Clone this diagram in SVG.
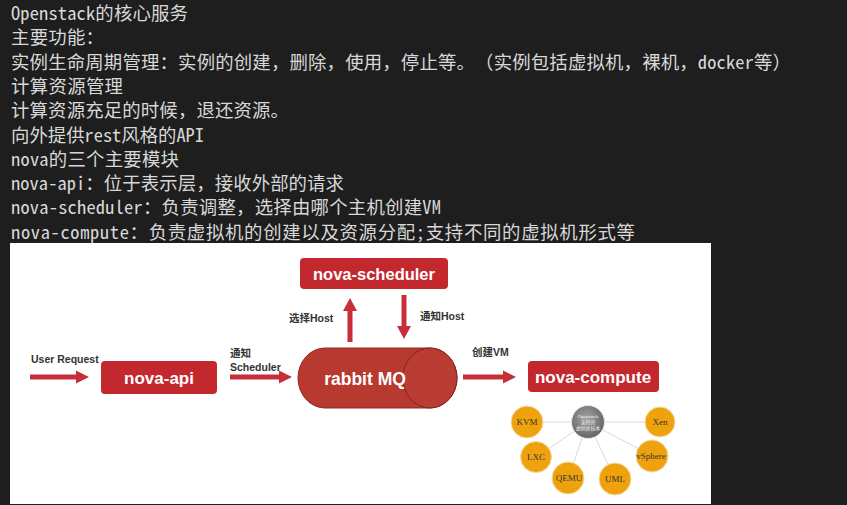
<svg xmlns="http://www.w3.org/2000/svg" width="847" height="505" viewBox="0 0 847 505">
<defs>
<style>
.t{font-family:"Noto Sans Mono CJK SC","Noto Sans CJK SC",sans-serif;font-size:18.4px;fill:#d8d8d8;text-spacing-trim:space-all;font-feature-settings:"halt" 0,"chws" 0}
.box{fill:#c4282f}
.bt{font-family:"Liberation Sans","Noto Sans CJK SC",sans-serif;font-weight:bold;fill:#ffffff;text-anchor:middle}
.lbl{font-family:"Liberation Sans","Noto Sans CJK SC",sans-serif;font-weight:bold;font-size:10.5px;fill:#333333}
.arr{fill:#c62f37}
.ln{stroke:#dadada;stroke-width:1;fill:none}
.orb{fill:#eea30e;stroke:#f3dca8;stroke-width:1}
.ot{font-family:"Liberation Serif","Noto Serif CJK SC",serif;font-size:9px;fill:#333333;text-anchor:middle}
.gt{font-family:"Liberation Serif","Noto Sans CJK SC",serif;font-size:4.8px;fill:#f4f4f4;text-anchor:middle}
</style>
<radialGradient id="gg" cx="0.45" cy="0.4" r="0.65">
<stop offset="0" stop-color="#a4a4a4"/>
<stop offset="1" stop-color="#5f5f5f"/>
</radialGradient>
</defs>
<rect x="0" y="0" width="847" height="505" fill="#1e1e1e"/>
<g id="notes">
<text class="t" x="11" y="20" textLength="177" lengthAdjust="spacing">Openstack的核心服务</text>
<text class="t" x="11" y="44.3" textLength="93" lengthAdjust="spacing">主要功能：</text>
<text class="t" x="11" y="68.6" textLength="780" lengthAdjust="spacing">实例生命周期管理：实例的创建，删除，使用，停止等。（实例包括虚拟机，裸机，docker等）</text>
<text class="t" x="11" y="92.9" textLength="112" lengthAdjust="spacing">计算资源管理</text>
<text class="t" x="11" y="117.2" textLength="278" lengthAdjust="spacing">计算资源充足的时候，退还资源。</text>
<text class="t" x="11" y="141.5" textLength="193" lengthAdjust="spacing">向外提供rest风格的API</text>
<text class="t" x="11" y="165.8" textLength="168" lengthAdjust="spacing">nova的三个主要模块</text>
<text class="t" x="11" y="190.1" textLength="333" lengthAdjust="spacing">nova-api：位于表示层，接收外部的请求</text>
<text class="t" x="11" y="214.4" textLength="430" lengthAdjust="spacing">nova-scheduler：负责调整，选择由哪个主机创建VM</text>
<text class="t" x="11" y="238.7" textLength="624" lengthAdjust="spacing">nova-compute：负责虚拟机的创建以及资源分配;支持不同的虚拟机形式等</text>
</g>
<rect x="10" y="243" width="701" height="261" fill="#ffffff"/>
<g id="connectors">
<polygon class="arr" points="30,374.5 76,374.5 76,370.5 89,377 76,383.5 76,379.5 30,379.5"/>
<polygon class="arr" points="230,374.5 279,374.5 279,370.5 292,377 279,383.5 279,379.5 230,379.5"/>
<polygon class="arr" points="463,374.5 503,374.5 503,370.5 516,377 503,383.5 503,379.5 463,379.5"/>
<polygon class="arr" points="347.5,342 347.5,311 343,311 350,298 357,311 352.5,311 352.5,342"/>
<polygon class="arr" points="401.5,295 401.5,326 397,326 404,339 411,326 406.5,326 406.5,295"/>
<line class="ln" x1="588" y1="422" x2="527" y2="422"/>
<line class="ln" x1="588" y1="422" x2="660" y2="422"/>
<line class="ln" x1="588" y1="422" x2="536" y2="457"/>
<line class="ln" x1="588" y1="422" x2="652" y2="456"/>
<line class="ln" x1="588" y1="422" x2="568" y2="478"/>
<line class="ln" x1="588" y1="422" x2="615" y2="479"/>
<text class="lbl" x="31" y="362.5">User Request</text>
<text class="lbl" x="230" y="357">通知</text>
<text class="lbl" x="230" y="370.5">Scheduler</text>
<text class="lbl" x="289" y="321.7">选择Host</text>
<text class="lbl" x="420" y="319.7">通知Host</text>
<text class="lbl" x="472" y="355.7">创建VM</text>
</g>
<g id="nova-scheduler">
<rect class="box" x="300" y="258" width="148" height="31" rx="4"/>
<text class="bt" x="374" y="280" font-size="16.5">nova-scheduler</text>
</g>
<g id="nova-api">
<rect class="box" x="101" y="361" width="116" height="33" rx="4"/>
<text class="bt" x="159" y="384" font-size="17">nova-api</text>
</g>
<g id="rabbit-mq">
<path d="M325,348 H430 A27,30 0 0 1 430,408 H325 A27,30 0 0 1 325,348 Z" fill="#b8392f" stroke="#8e2a23" stroke-width="1"/>
<ellipse cx="430" cy="378" rx="27" ry="30" fill="#bb3c32" stroke="#7d241e" stroke-width="1"/>
<text class="bt" x="365" y="385" font-size="17.5">rabbit MQ</text>
</g>
<g id="nova-compute">
<rect class="box" x="528" y="361" width="131" height="31" rx="4"/>
<text class="bt" x="593" y="383" font-size="17">nova-compute</text>
</g>
<g id="virt-center">
<circle cx="588" cy="422" r="16.5" fill="url(#gg)" stroke="#e6e6e6" stroke-width="1"/>
<text class="gt" x="588" y="418">Openstack</text>
<text class="gt" x="588" y="424">支持的</text>
<text class="gt" x="588" y="430">虚拟化技术</text>
</g>
<g id="kvm"><circle class="orb" cx="527" cy="422" r="16"/><text class="ot" x="527" y="425">KVM</text></g>
<g id="xen"><circle class="orb" cx="660" cy="422" r="15"/><text class="ot" x="660" y="425">Xen</text></g>
<g id="lxc"><circle class="orb" cx="536" cy="457" r="15.5"/><text class="ot" x="536" y="460">LXC</text></g>
<g id="vsphere"><circle class="orb" cx="652" cy="456" r="16"/><text class="ot" x="651" y="459" font-size="8.5">vSphere</text></g>
<g id="qemu"><circle class="orb" cx="568" cy="478" r="16"/><text class="ot" x="569" y="481" font-size="8">QEMU</text></g>
<g id="uml"><circle class="orb" cx="615" cy="479" r="16"/><text class="ot" x="615" y="482">UML</text></g>
</svg>
